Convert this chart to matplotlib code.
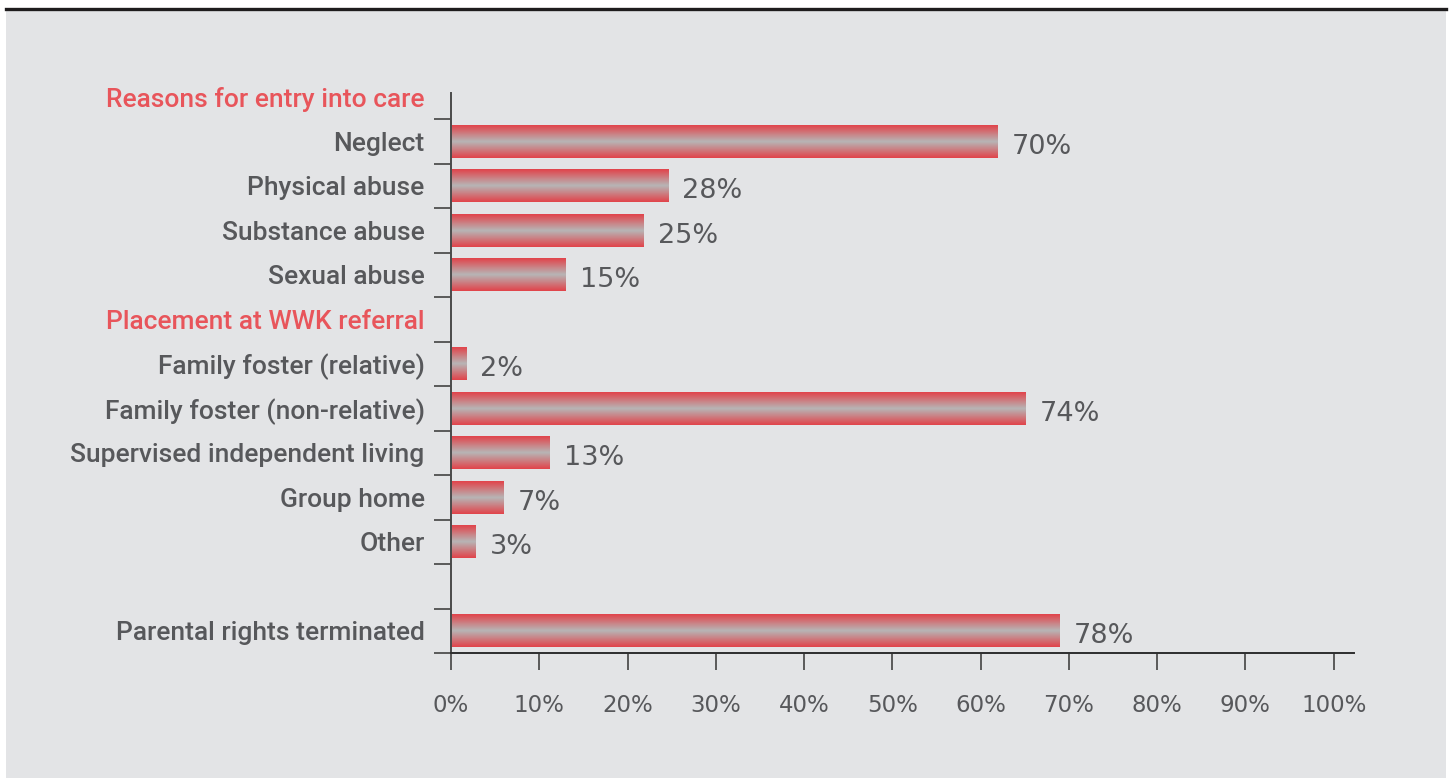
import numpy as np
import matplotlib
matplotlib.use("Agg")
import matplotlib.pyplot as plt
from matplotlib.colors import LinearSegmentedColormap
from matplotlib.patches import Rectangle
from matplotlib.lines import Line2D

# rows top to bottom; headers and the blank row carry no bar
rows = ["Reasons for entry into care", "Neglect", "Physical abuse", "Substance abuse",
        "Sexual abuse", "Placement at WWK referral", "Family foster (relative)",
        "Family foster (non-relative)", "Supervised independent living", "Group home",
        "Other", "", "Parental rights terminated"]
headers = ["Reasons for entry into care", "Placement at WWK referral"]

# value printed next to each bar
shown = [None, 70, 28, 25, 15, None, 2, 74, 13, 7, 3, None, 78]
# bar length as drawn in the source (shorter than the printed value)
drawn = [None, 61.9, 24.6, 21.8, 13.0, None, 1.7, 65.1, 11.2, 6.0, 2.8, None, 68.9]

xticks = list(range(0, 101, 10))
xticklabels = [f"{t}%" for t in xticks]

W, H = 1452, 778
GREY_TXT = "#57585b"
RED_TXT = "#e8555b"
PANEL = "#e3e4e6"

plt.rcParams["font.family"] = ["Roboto", "DejaVu Sans"]

fig = plt.figure(figsize=(W / 100, H / 100), dpi=100)
fig.patch.set_facecolor("white")
fig.patches.append(Rectangle((6 / W, 0), 1440 / W, 768 / H, transform=fig.transFigure,
                             facecolor=PANEL, edgecolor="none", zorder=-10))
fig.lines.append(Line2D([6 / W, 1446 / W], [769.5 / H, 769.5 / H], transform=fig.transFigure,
                        color="#1e1c1d", linewidth=2.4, zorder=-5))

ax = fig.add_axes([451 / W, 125 / H, 903 / W, 560 / H])
ax.set_facecolor("none")

ypos = [i for i, d in enumerate(drawn) if d is not None]
lengths = [drawn[i] for i in ypos]
bars = ax.barh(ypos, lengths, height=0.74, color="none", linewidth=0)

cmap = LinearSegmentedColormap.from_list("bar", ["#e1444b", "#b7b6b6", "#e1444b"])
grad = np.linspace(0, 1, 64).reshape(-1, 1)
for b in bars:
    x0, y0, w, h = b.get_x(), b.get_y(), b.get_width(), b.get_height()
    ax.imshow(grad, extent=(x0, x0 + w, y0 + h, y0), aspect="auto", cmap=cmap,
              interpolation="bilinear", zorder=2)

for i in ypos:
    ax.text(drawn[i] + 1.6, i + 0.12, f"{shown[i]}%", ha="left", va="center",
            fontsize=19.5, color=GREY_TXT, family="DejaVu Sans")

ax.set_xlim(0, 102.3)
ax.set_ylim(12.5, -0.09)

ax.set_xticks(xticks)
ax.set_xticklabels(xticklabels, family="DejaVu Sans", fontsize=16.5, color=GREY_TXT)
ax.tick_params(axis="x", length=12.2, width=1.4, color="#5a5a5a", pad=17)

ax.set_yticks(range(len(rows)))
ax.set_yticklabels(rows, fontsize=19, fontweight="medium")
ax.tick_params(axis="y", which="major", length=0, pad=19)
ax.set_yticks(np.arange(0.5, 12.6, 1.0), minor=True)
ax.tick_params(axis="y", which="minor", length=12.2, width=1.4, color="#5a5a5a")
for lab in ax.get_yticklabels():
    lab.set_color(RED_TXT if lab.get_text() in headers else GREY_TXT)

for s in ["top", "right"]:
    ax.spines[s].set_visible(False)
ax.spines["left"].set_color("#4a4a4a")
ax.spines["bottom"].set_color("#2e2e2e")
ax.spines["left"].set_linewidth(1.4)
ax.spines["bottom"].set_linewidth(1.4)

fig.savefig("out.png", dpi=100)
